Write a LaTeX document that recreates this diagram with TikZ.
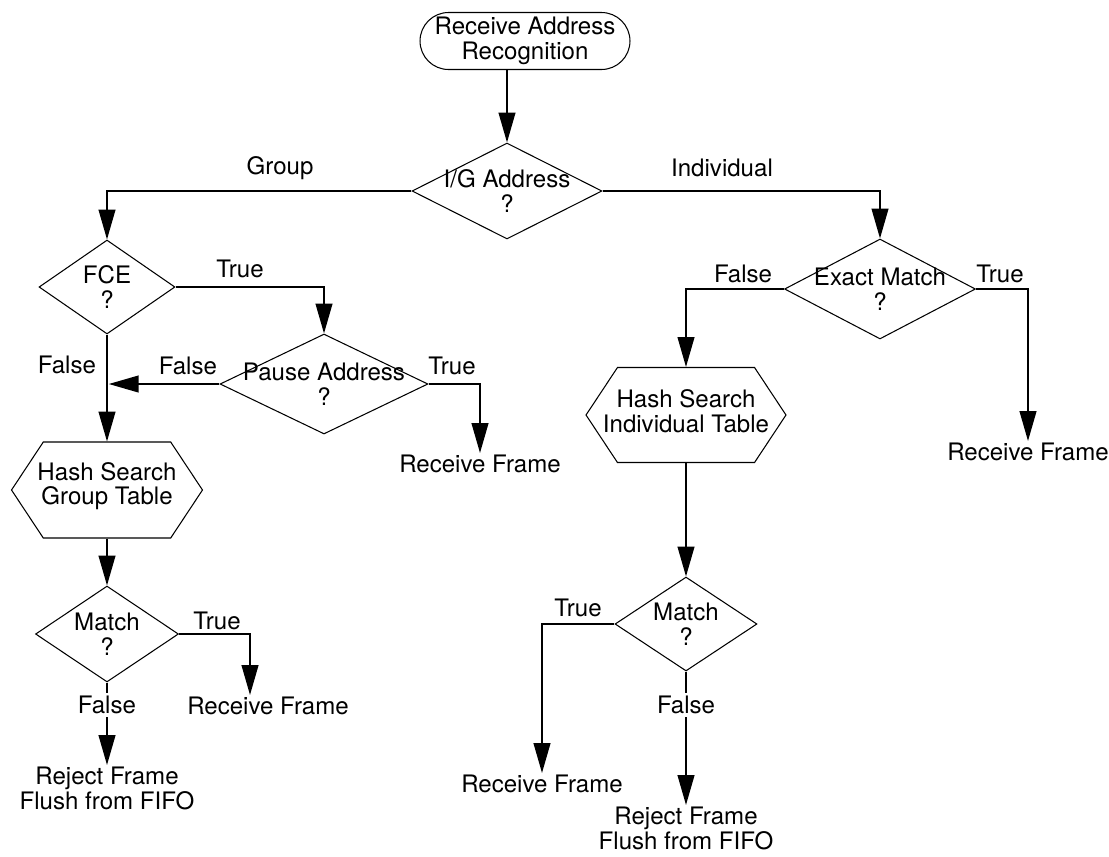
\documentclass[tikz,border=0pt]{standalone}
\usepackage{fontspec}
\setmainfont{TeX Gyre Heros}
\usetikzlibrary{arrows.meta,shapes.geometric,shapes.symbols}
\definecolor{FlowClr}{rgb}{0,0,0}

\begin{document}
\begin{tikzpicture}[x=0.02cm,y=-0.02cm,
  font=\fontsize{13.7}{14}\selectfont,
  every node/.style={align=center,inner sep=1pt},
  every label/.append style={align=center,inner sep=0pt},
  term/.style={draw=FlowClr,line width=0.6pt,rounded corners=0.57cm,minimum width=4.2cm,minimum height=1.14cm,inner sep=0pt},
  test/.style n args={2}{draw=FlowClr,line width=0.6pt,diamond,inner sep=0pt,minimum width=#1,minimum height=#2},
  hash/.style n args={2}{draw=FlowClr,line width=0.6pt,signal,signal to=west and east,signal pointer angle=113,inner sep=0pt,minimum width=#1,minimum height=#2},
  flow/.style={draw=FlowClr,line width=1.1pt,-{Triangle[length=17pt,width=9.5pt]}},
  cut/.style={fill=white,inner sep=2pt}]

\useasboundingbox (0,0) rectangle (1109,856);

\node[term] (start) at (525,41) {Receive Address\\Recognition};
\node[test={3.8cm}{1.92cm},label={center:I/G Address\\?}] (ig) at (507,191) {};

\node[test={2.72cm}{1.88cm},label={center:FCE\\?}] (fce) at (107,287) {};
\node[test={4.16cm}{2cm},label={center:Pause Address\\?}] (pause) at (324,384) {};
\node[hash={3.82cm}{1.92cm},label={[yshift=0.08cm]center:Hash Search\\Group Table}] (hsg) at (107,490) {};
\node[test={2.86cm}{1.92cm},label={center:Match\\?}] (mg) at (107,634) {};

\node[test={3.82cm}{2cm},label={center:Exact Match\\?}] (exact) at (880,289) {};
\node[hash={4cm}{1.9cm},label={[yshift=0.08cm]center:Hash Search\\Individual Table}] (hsi) at (686,415) {};
\node[test={2.84cm}{1.88cm},label={center:Match\\?}] (mi) at (686,624) {};

\node[anchor=north] (rf1) at (480,453) {Receive Frame};
\node[anchor=north] (rf2) at (1028,441) {Receive Frame};
\node[anchor=north] (rf3) at (268,695) {Receive Frame};
\node[anchor=north] (rj1) at (107,765) {Reject Frame\\Flush from FIFO};
\node[anchor=north] (rf4) at (542,773) {Receive Frame};
\node[anchor=north] (rj2) at (686,805) {Reject Frame\\Flush from FIFO};

\coordinate (fjoin) at (fce.south |- pause.west);

\draw[flow] (start.south -| ig.north) -- (ig.north);
\draw[flow] (ig.west) -| (fce.north);
\draw[flow] (ig.east) -| (exact.north);
\draw[flow] (fce.east) -| (pause.north);
\draw[flow] (fce.south) -- (hsg.north);
\draw[flow,shorten >=1pt] (pause.west) -- (fjoin);
\draw[flow] (pause.east) -| (rf1.north);
\draw[flow] (hsg.south) -- (mg.north);
\draw[flow] (mg.east) -| ([xshift=-0.36cm]rf3.north);
\draw[flow] (mg.south) -- (rj1.north);
\draw[flow] (exact.west) -| (hsi.north);
\draw[flow] (exact.east) -| (rf2.north);
\draw[flow] (hsi.south) -- (mi.north);
\draw[flow] (mi.west) -| (rf4.north);
\draw[flow] (mi.south) -- (rj2.north);

\node (lgroup) at (280,168) {Group};
\node (lindiv) at (722,168) {Individual};
\node (lfcet) at (240,269) {True};
\node (lfcef) at (67,365) {False};
\node (lpausef) at (188,366) {False};
\node (lpauset) at (452,366) {True};
\node (lmgt) at (217,621) {True};
\node[cut] (lmgf) at (107,705) {False};
\node (lexf) at (743,274) {False};
\node (lext) at (1000,274) {True};
\node (lmit) at (578,608) {True};
\node[cut] (lmif) at (686,705) {False};

\end{tikzpicture}
\end{document}
